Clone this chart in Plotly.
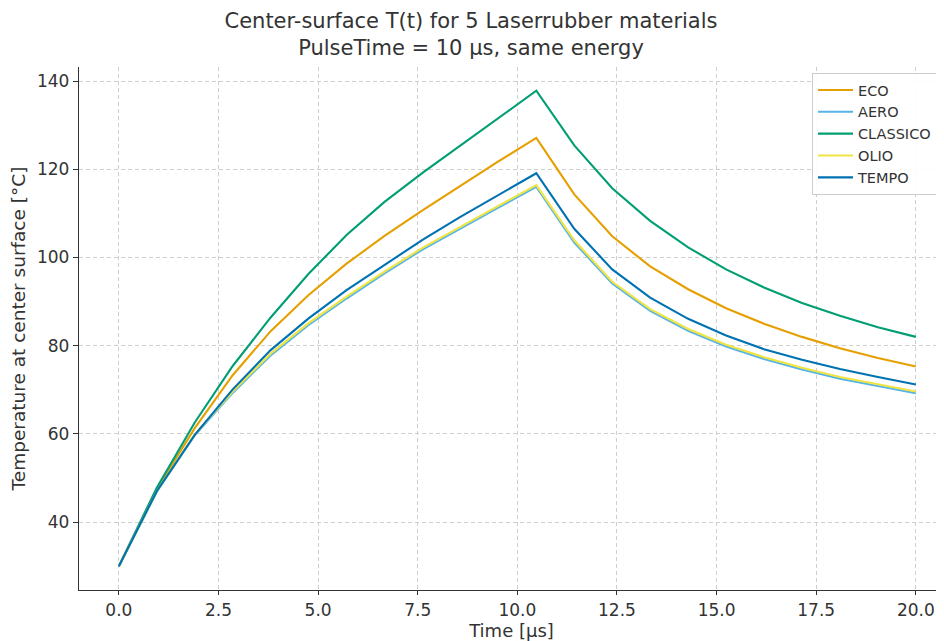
import plotly.graph_objects as go

# Time samples (µs): 22 samples from 0 to 20
time_us = [0.0, 0.952, 1.905, 2.857, 3.810, 4.762, 5.714, 6.667, 7.619, 8.571, 9.524,
           10.476, 11.429, 12.381, 13.333, 14.286, 15.238, 16.190, 17.143, 18.095, 19.048, 20.0]

eco = [30.0, 47.5, 61.3, 73.3, 83.3, 91.5, 98.6, 104.9, 110.7, 116.3, 121.8,
       127.1, 114.3, 104.8, 98.0, 92.8, 88.5, 85.0, 82.0, 79.4, 77.2, 75.3]
aero = [30.0, 46.9, 59.7, 69.3, 77.8, 84.7, 90.7, 96.4, 101.8, 106.6, 111.3,
        116.0, 103.4, 94.1, 87.9, 83.4, 79.8, 77.0, 74.6, 72.5, 70.8, 69.2]
classico = [30.0, 47.8, 62.6, 75.4, 86.4, 96.3, 105.1, 112.6, 119.2, 125.4, 131.6,
            137.8, 125.4, 115.7, 108.3, 102.3, 97.3, 93.2, 89.7, 86.8, 84.2, 82.0]
olio = [30.0, 47.0, 59.9, 69.6, 78.2, 85.1, 91.1, 96.8, 102.2, 107.0, 111.7,
        116.4, 103.9, 94.5, 88.3, 83.8, 80.2, 77.4, 75.0, 72.9, 71.2, 69.6]
tempo = [30.0, 47.0, 59.8, 70.1, 79.0, 86.2, 92.6, 98.3, 104.0, 109.2, 114.2,
         119.1, 106.5, 97.3, 90.9, 86.1, 82.3, 79.2, 76.8, 74.7, 72.9, 71.2]

series_names = ["ECO", "AERO", "CLASSICO", "OLIO", "TEMPO"]
series_values = [eco, aero, classico, olio, tempo]
series_colors = ["#E69F00", "#56B4E9", "#009E73", "#F0E442", "#0072B2"]

x_ticks = [0.0, 2.5, 5.0, 7.5, 10.0, 12.5, 15.0, 17.5, 20.0]
x_tick_labels = ["0.0", "2.5", "5.0", "7.5", "10.0", "12.5", "15.0", "17.5", "20.0"]
y_ticks = [40, 60, 80, 100, 120, 140]

fig = go.Figure()
for name, vals, col in zip(series_names, series_values, series_colors):
    fig.add_trace(go.Scatter(x=time_us, y=vals, mode="lines", name=name,
                             line=dict(color=col, width=2.1)))

# page body has an 8px margin, so the figure is drawn 8px right/down
W, H = 936, 633
font_family = "DejaVu Sans"
txt = "#333333"
fig.update_layout(
    width=W, height=H,
    margin=dict(l=71, r=0, t=59, b=51, autoexpand=False),
    paper_bgcolor="white", plot_bgcolor="white",
    font=dict(family=font_family, color=txt, size=17),
    title=dict(text="Center-surface T(t) for 5 Laserrubber materials<br>PulseTime = 10 µs, same energy",
               x=(471 - 8) / W, xref="container", xanchor="center",
               y=1 - (28 - 8) / H, yref="container", yanchor="middle",
               font=dict(size=21, color=txt, family=font_family)),
    legend=dict(x=(812 - 79) / 865, y=(590 - 73) / 523, xanchor="left", yanchor="top",
                bgcolor="rgba(255,255,255,0.9)", bordercolor="#cccccc", borderwidth=1,
                font=dict(size=14.5, color=txt, family=font_family),
                tracegroupgap=0, itemwidth=35),
    showlegend=True,
)
fig.update_xaxes(range=[-1, 20.707], tickvals=x_ticks, ticktext=x_tick_labels,
                 showgrid=True, gridcolor="#cfcfcf", griddash="4px,3px", gridwidth=0.8,
                 showline=True, linecolor="#333333", linewidth=1.3, mirror=False,
                 ticks="outside", ticklen=4, tickcolor="#333333", zeroline=False,
                 tickfont=dict(size=17),
                 title=dict(text="Time [µs]", font=dict(size=18), standoff=1))
fig.update_yaxes(range=[24.61, 143.19], tickvals=y_ticks,
                 showgrid=True, gridcolor="#cfcfcf", griddash="4px,3px", gridwidth=0.8,
                 showline=True, linecolor="#333333", linewidth=1.3, mirror=False,
                 ticks="outside", ticklen=5, tickcolor="#333333", zeroline=False,
                 tickfont=dict(size=17),
                 title=dict(text="Temperature at center surface [°C]", font=dict(size=18.5), standoff=10))

fig.write_html("out.html")
